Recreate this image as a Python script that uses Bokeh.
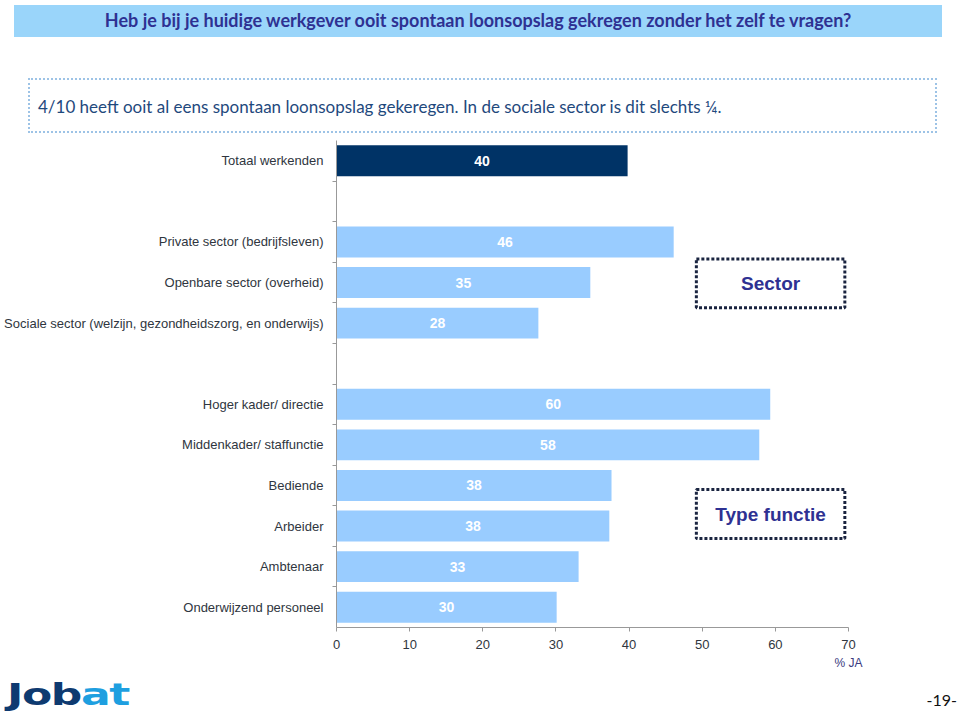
from bokeh.plotting import figure
from bokeh.layouts import column
from bokeh.models import Range1d, FixedTicker, LinearAxis, ColumnDataSource, Div
from bokeh.core.properties import value
from bokeh.embed import file_html
from bokeh.resources import INLINE

# ---------------- data ----------------
title_text = "Heb je bij je huidige werkgever ooit spontaan loonsopslag gekregen zonder het zelf te vragen?"
subtitle_text = "4/10 heeft ooit al eens spontaan loonsopslag gekeregen. In de sociale sector is dit slechts \u00bc."

total_cats = ["Totaal werkenden"]
total_vals = [39.8]
total_lbls = ["40"]

sector_cats = ["Private sector (bedrijfsleven)",
               "Openbare sector (overheid)",
               "Sociale sector (welzijn, gezondheidszorg, en onderwijs)"]
sector_vals = [46.1, 34.7, 27.6]
sector_lbls = ["46", "35", "28"]

function_cats = ["Hoger kader/ directie", "Middenkader/ staffunctie", "Bediende",
                 "Arbeider", "Ambtenaar", "Onderwijzend personeel"]
function_vals = [59.3, 57.8, 37.6, 37.3, 33.1, 30.1]
function_lbls = ["60", "58", "38", "38", "33", "30"]

group_titles = ["Sector", "Type functie"]
x_ticks = [0, 10, 20, 30, 40, 50, 60, 70]
x_unit = "% JA"
logo_parts = ["Job", "at"]
page_no = "-19-"

DARK = "#003366"
LIGHT = "#99CCFF"
FONT = "Liberation Sans"
TXT = "#2f3640"
NAVY = "#2E3192"

W = 960
TOP_H, CHART_H, BOT_H = 140, 534, 46
FRAME_L, FRAME_R, FRAME_B = 336, 848, 627  # page pixels

# ---------------- header ----------------
header_html = f"""
<div style="position:relative;width:{W}px;height:{TOP_H}px;font-family:Lato, sans-serif;">
  <div style="position:absolute;left:14px;top:5px;width:928px;height:32px;background:#9AD5FA;
              display:flex;align-items:center;justify-content:center;
              color:{NAVY};font-weight:bold;font-size:18px;white-space:nowrap;">{title_text}</div>
  <div style="position:absolute;left:28px;top:78px;width:909px;height:55px;box-sizing:border-box;
              border:2px dotted #9DC3E6;"></div>
  <div style="position:absolute;left:38px;top:96px;height:22px;line-height:22px;
              color:#1F497D;font-size:17px;white-space:nowrap;">{subtitle_text}</div>
</div>
"""
header = Div(text=header_html, width=W, height=TOP_H, margin=0)

# ---------------- chart ----------------
groups = [(total_cats, total_vals, total_lbls, DARK),
          (sector_cats, sector_vals, sector_lbls, LIGHT),
          (function_cats, function_vals, function_lbls, LIGHT)]
ys, vals, lbls, cols, cats = [], [], [], [], []
slot = 0
for gi, (c, v, l, col) in enumerate(groups):
    if gi > 0:
        slot += 1  # empty spacer slot between groups
    for ci, vi, li in zip(c, v, l):
        ys.append(slot); vals.append(vi); lbls.append(li); cols.append(col); cats.append(ci)
        slot += 1
n_slots = slot

src = ColumnDataSource(dict(y=ys, v=vals, mid=[v / 2 for v in vals], lbl=lbls, color=cols))

p = figure(width=W, height=CHART_H, output_backend="svg", toolbar_location=None,
           x_range=Range1d(x_ticks[0], x_ticks[-1]),
           y_range=Range1d(n_slots - 0.5, -0.5),
           min_border_left=FRAME_L, min_border_right=W - FRAME_R,
           min_border_top=0, min_border_bottom=TOP_H + CHART_H - FRAME_B, margin=0)
p.outline_line_color = None
p.xgrid.grid_line_color = None
p.ygrid.grid_line_color = None

p.hbar(y="y", left=0, right="v", height=0.76, fill_color="color", line_color=None, source=src)
p.text(x="mid", y="y", text="lbl", source=src, text_color="white",
       text_font=value(FONT), text_font_style="bold", text_font_size="14px",
       text_align="center", text_baseline="middle")

xa = p.xaxis[0]
xa.ticker = FixedTicker(ticks=x_ticks)
xa.axis_line_color = "#999999"
xa.major_tick_line_color = "#999999"
xa.major_tick_out = 4
xa.major_tick_in = 0
xa.minor_tick_out = 0
xa.minor_tick_in = 0
xa.major_label_standoff = 8
xa.major_label_text_font = FONT
xa.major_label_text_font_size = "13px"
xa.major_label_text_color = TXT

# unit label under the last tick
ua = LinearAxis(ticker=FixedTicker(ticks=[x_ticks[-1]]),
                major_label_overrides={x_ticks[-1]: x_unit})
ua.axis_line_color = None
ua.major_tick_line_color = None
ua.major_tick_out = 0
ua.major_tick_in = 0
ua.minor_tick_line_color = None
ua.major_label_standoff = 4
ua.major_label_text_font = FONT
ua.major_label_text_font_size = "12px"
ua.major_label_text_color = "#3a3a80"
p.add_layout(ua, "below")

ya = p.yaxis[0]
ya.ticker = FixedTicker(ticks=ys, minor_ticks=[i + 0.5 for i in range(n_slots - 1)])
ya.major_label_overrides = {y: c for y, c in zip(ys, cats)}
ya.axis_line_color = "#999999"
ya.major_tick_out = 0
ya.major_tick_in = 0
ya.minor_tick_out = 4
ya.minor_tick_in = 0
ya.minor_tick_line_color = "#999999"
ya.major_label_standoff = 9
ya.major_label_text_font = FONT
ya.major_label_text_font_size = "13px"
ya.major_label_text_color = TXT

# group boxes (positions in slot units; layout only)
box_specs = [(2.42, 3.62), (8.10, 9.31)]
bx_l, bx_r = 49.2, 69.5
for (t, b), name in zip(box_specs, group_titles):
    p.quad(left=[bx_l], right=[bx_r], top=[t], bottom=[b], fill_color=None,
           line_color="#1a2440", line_width=3, line_dash="3 2")
    p.text(x=[(bx_l + bx_r) / 2], y=[(t + b) / 2], text=[name], text_align="center",
           text_baseline="middle", text_font=value(FONT), text_font_style="bold",
           text_font_size="19px", text_color=NAVY)

# ---------------- footer ----------------
footer_html = f"""
<div style="position:relative;width:{W}px;height:{BOT_H}px;">
  <div style="position:absolute;left:7px;top:5px;height:30px;line-height:30px;white-space:nowrap;
              font-family:'DejaVu Sans', sans-serif;font-weight:bold;font-size:31px;letter-spacing:-1px;
              transform:scaleX(1.42);transform-origin:left center;">
    <span style="color:#0E3A70;">{logo_parts[0]}</span><span style="color:#1E9FE0;">{logo_parts[1]}</span>
  </div>
  <div style="position:absolute;right:3px;top:16px;height:20px;line-height:20px;white-space:nowrap;
              font-family:Lato, sans-serif;font-size:16px;color:#111;">{page_no}</div>
</div>
"""
footer = Div(text=footer_html, width=W, height=BOT_H, margin=0)

layout = column(header, p, footer, spacing=0)
open("out.html", "w").write(file_html(layout, INLINE))
